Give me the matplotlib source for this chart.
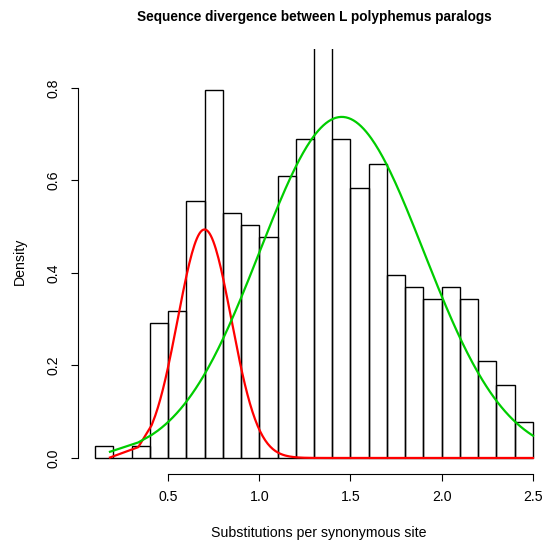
import numpy as np
import matplotlib
matplotlib.use("Agg")
import matplotlib.pyplot as plt

plt.rcParams['font.family'] = ['Liberation Sans', 'DejaVu Sans']

# Histogram data (bin left edges, density heights)
bin_left = [0.1, 0.2, 0.3, 0.4, 0.5, 0.6, 0.7, 0.8, 0.9, 1.0, 1.1, 1.2,
            1.3, 1.4, 1.5, 1.6, 1.7, 1.8, 1.9, 2.0, 2.1, 2.2, 2.3, 2.4]
density = [0.026, 0.0, 0.026, 0.291, 0.317, 0.556, 0.796, 0.530, 0.503, 0.477, 0.610, 0.689,
           1.03, 0.689, 0.583, 0.636, 0.396, 0.370, 0.344, 0.370, 0.344, 0.210, 0.158, 0.078]
bin_width = 0.1

# Fitted normal mixture components
red_mean, red_sd, red_weight = 0.70, 0.147, 0.182
green_mean, green_sd, green_weight = 1.452, 0.4486, 0.829

# x positions where the fitted curves were evaluated
x_curve = np.concatenate([[0.182, 0.337, 0.41], np.linspace(0.43, 2.5, 300)])

xticks = [0.5, 1.0, 1.5, 2.0, 2.5]
xtick_labels = ["0.5", "1.0", "1.5", "2.0", "2.5"]
yticks = [0.0, 0.2, 0.4, 0.6, 0.8]
ytick_labels = ["0.0", "0.2", "0.4", "0.6", "0.8"]

def npdf(x, m, s):
    return np.exp(-(x - m) ** 2 / (2 * s * s)) / (s * np.sqrt(2 * np.pi))

W, H = 546, 544
fig = plt.figure(figsize=(W / 100, H / 100), dpi=100)
left, right, bottom, top = 77.5, 550.5, 473.7, 49.0
ax = fig.add_axes([left / W, 1 - bottom / H, (right - left) / W, (bottom - top) / H])

ax.bar(bin_left, density, width=bin_width, align='edge', fill=False,
       edgecolor='black', linewidth=1.0)
ax.plot(x_curve, red_weight * npdf(x_curve, red_mean, red_sd), color='#FF0000', lw=1.6)
ax.plot(x_curve, green_weight * npdf(x_curve, green_mean, green_sd), color='#00CD00', lw=1.6)

ax.set_xlim(0.004, 2.596)
ax.set_ylim(-0.034, 0.884)
for s in ['top', 'right']:
    ax.spines[s].set_visible(False)
ax.spines['bottom'].set_bounds(0.5, 2.5)
ax.spines['left'].set_bounds(0.0, 0.8)
ax.spines['bottom'].set_linewidth(0.8)
ax.spines['left'].set_linewidth(0.8)

ax.set_xticks(xticks)
ax.set_xticklabels(xtick_labels)
ax.set_yticks(yticks)
ax.set_yticklabels(ytick_labels, rotation=90, va='center')
ax.tick_params(direction='out', length=5, width=0.8, labelsize=10.2, pad=7)
ax.tick_params(axis='y', pad=7)

fig.text(314 / W, 1 - 17 / H, "Sequence divergence between L polyphemus paralogs",
         ha='center', va='center', fontsize=9.8, fontweight='bold')
fig.text(319 / W, 1 - 533 / H, "Substitutions per synonymous site",
         ha='center', va='center', fontsize=10.2)
fig.text(20 / W, 1 - 261 / H, "Density", ha='center', va='center',
         rotation=90, fontsize=10.2)

fig.savefig("out.png", dpi=100)
